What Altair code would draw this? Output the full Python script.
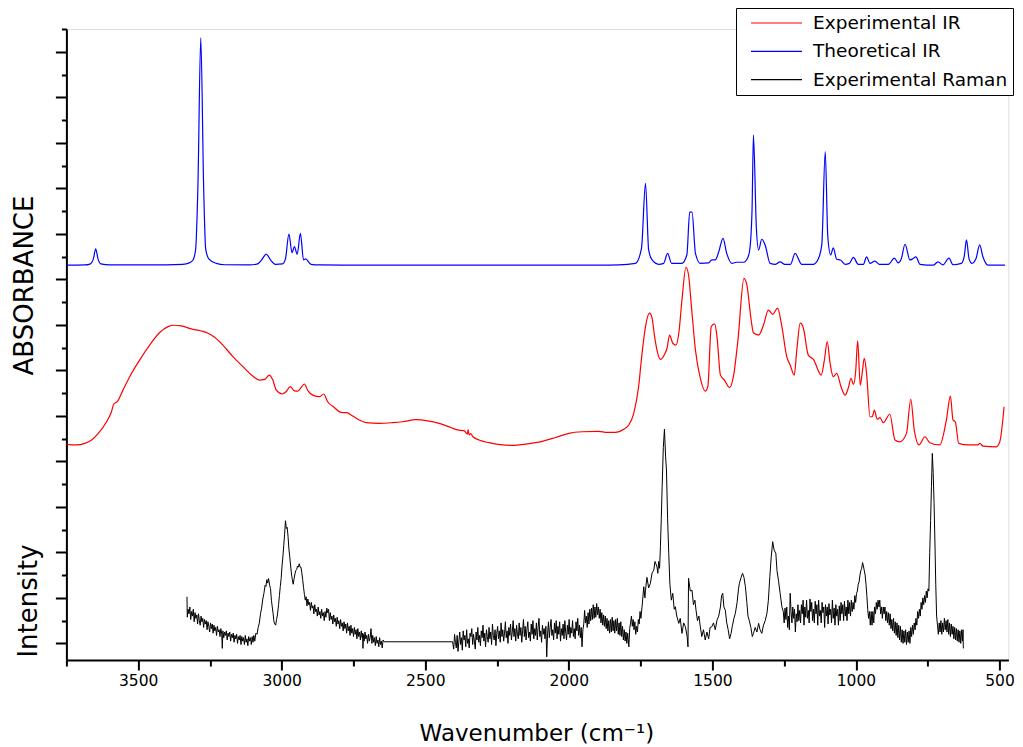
import altair as alt
import pandas as pd

FONT = "DejaVu Sans"

series_names = ["Experimental IR", "Theoretical IR", "Experimental Raman"]
series_colors = ["#ff0000", "#0000ff", "#000000"]

# (wavenumber cm-1, arbitrary units; one y tick = 1 unit)
theoretical_ir = [
    (3750, 16.62), (3686, 16.63), (3668, 16.67), (3656, 16.90), (3648, 17.34), (3640, 16.90),
    (3630, 16.68), (3599, 16.63), (3460, 16.63), (3345, 16.66), (3322, 16.72), (3309, 16.85),
    (3300, 17.30), (3292, 20.07), (3282, 26.61), (3272, 20.07), (3265, 17.35), (3254, 16.90),
    (3228, 16.70), (3199, 16.64), (3112, 16.63), (3084, 16.68), (3070, 16.85), (3054, 17.11),
    (3039, 16.85), (3022, 16.66), (2997, 16.68), (2987, 16.90), (2975, 17.99), (2964, 17.16),
    (2956, 17.44), (2946, 17.10), (2935, 18.02), (2924, 16.85), (2917, 16.90), (2898, 16.66),
    (2869, 16.63), (2591, 16.62), (2243, 16.62), (1896, 16.62), (1826, 16.63), (1768, 16.70),
    (1747, 17.36), (1733, 20.22), (1722, 17.29), (1710, 16.85), (1687, 16.66), (1670, 16.70),
    (1656, 17.14), (1642, 16.70), (1607, 16.70), (1589, 17.07), (1579, 18.95), (1571, 18.95),
    (1559, 17.14), (1542, 16.70), (1513, 16.72), (1502, 16.85), (1490, 16.85), (1478, 17.20),
    (1463, 17.80), (1450, 17.14), (1432, 16.70), (1416, 16.75), (1391, 16.75), (1381, 16.85),
    (1371, 17.20), (1362, 19.00), (1357, 22.34), (1347, 18.30), (1339, 17.29), (1328, 17.76),
    (1316, 17.50), (1299, 16.70), (1280, 16.66), (1264, 16.77), (1249, 16.66), (1228, 16.66),
    (1212, 17.14), (1189, 16.66), (1148, 16.66), (1131, 16.90), (1119, 17.51), (1107, 21.61),
    (1098, 17.87), (1088, 17.07), (1079, 17.38), (1067, 16.88), (1054, 16.85), (1038, 16.66),
    (1023, 16.70), (1009, 16.96), (992, 16.66), (974, 16.66), (963, 16.99), (951, 16.70),
    (934, 16.80), (919, 16.66), (887, 16.66), (866, 16.93), (853, 16.72), (842, 16.90),
    (829, 17.54), (812, 16.85), (802, 16.90), (791, 16.99), (777, 16.66), (731, 16.62),
    (714, 16.77), (697, 16.63), (676, 16.93), (662, 16.64), (633, 16.70), (623, 17.00),
    (615, 17.73), (606, 16.90), (596, 16.70), (582, 16.90), (569, 17.51), (558, 17.00),
    (540, 16.62), (481, 16.62),
]

experimental_ir = [
    (3750, 8.75), (3715, 8.72), (3686, 8.79), (3662, 8.94), (3639, 9.23), (3610, 9.74),
    (3593, 10.18), (3585, 10.52), (3573, 10.62), (3553, 11.13), (3523, 11.87), (3495, 12.45),
    (3460, 13.11), (3426, 13.65), (3396, 13.92), (3373, 13.98), (3350, 13.95), (3315, 13.82),
    (3280, 13.73), (3257, 13.63), (3234, 13.45), (3205, 13.11), (3170, 12.60), (3135, 12.16),
    (3101, 11.75), (3077, 11.57), (3060, 11.60), (3043, 11.79), (3031, 11.57), (3019, 11.13),
    (2998, 10.96), (2985, 11.06), (2970, 11.28), (2956, 11.10), (2944, 11.09), (2932, 11.25),
    (2921, 11.40), (2910, 11.13), (2892, 10.91), (2869, 10.84), (2854, 10.96), (2840, 10.62),
    (2817, 10.37), (2793, 10.15), (2774, 10.14), (2753, 9.99), (2730, 9.82), (2706, 9.70),
    (2660, 9.67), (2614, 9.70), (2579, 9.74), (2533, 9.83), (2492, 9.78), (2452, 9.67),
    (2411, 9.49), (2388, 9.38), (2365, 9.35), (2353, 9.20), (2351, 9.40), (2347, 9.16),
    (2342, 9.22), (2334, 9.08), (2313, 8.94), (2278, 8.82), (2232, 8.72), (2197, 8.70),
    (2150, 8.76), (2093, 8.88), (2046, 9.05), (2000, 9.23), (1954, 9.30), (1896, 9.32),
    (1867, 9.27), (1838, 9.27), (1809, 9.41), (1791, 9.60), (1774, 10.11), (1757, 11.28),
    (1745, 12.75), (1733, 13.92), (1719, 14.51), (1710, 14.29), (1702, 13.55), (1693, 12.89),
    (1681, 12.48), (1666, 12.72), (1658, 12.97), (1649, 13.55), (1638, 13.19), (1627, 13.11),
    (1617, 13.63), (1606, 15.09), (1592, 16.53), (1583, 16.19), (1573, 14.80), (1559, 12.89),
    (1542, 11.65), (1525, 11.09), (1516, 11.28), (1504, 13.92), (1492, 14.04), (1484, 13.48),
    (1472, 11.79), (1458, 11.57), (1440, 11.24), (1426, 11.79), (1411, 13.33), (1390, 16.04),
    (1380, 15.75), (1365, 14.21), (1357, 13.65), (1339, 13.55), (1322, 13.99), (1305, 14.65),
    (1290, 14.46), (1273, 14.73), (1258, 13.92), (1241, 12.60), (1229, 12.23), (1215, 11.79),
    (1206, 12.89), (1194, 14.07), (1183, 13.85), (1166, 12.67), (1148, 12.48), (1121, 11.79),
    (1110, 12.45), (1100, 13.26), (1090, 12.31), (1079, 11.72), (1067, 11.87), (1052, 11.28),
    (1038, 10.91), (1027, 11.21), (1017, 11.65), (1009, 11.38), (1001, 11.94), (994, 13.30),
    (985, 11.35), (977, 12.01), (971, 12.53), (963, 11.87), (951, 9.96), (943, 9.96),
    (936, 10.25), (926, 9.85), (916, 9.92), (905, 9.70), (882, 10.07), (864, 8.94),
    (847, 8.86), (824, 9.23), (809, 10.73), (797, 9.38), (780, 8.72), (760, 9.08),
    (743, 8.82), (708, 8.72), (685, 9.82), (671, 10.87), (662, 9.82), (654, 9.74),
    (642, 8.79), (609, 8.72), (575, 8.72), (569, 8.79), (557, 8.67), (511, 8.64),
    (499, 8.86), (484, 10.40),
]

experimental_raman = [
    (3330, 2.05), (3329, 1.15), (3326, 1.50), (3323, 1.30), (3320, 1.60), (3317, 1.05),
    (3314, 1.40), (3311, 1.20), (3308, 1.50), (3305, 0.95), (3302, 1.35), (3299, 1.10),
    (3296, 1.25), (3293, 0.85), (3290, 1.30), (3287, 1.00), (3284, 0.80), (3281, 1.20),
    (3278, 0.95), (3275, 1.10), (3272, 0.70), (3269, 1.05), (3266, 0.85), (3263, 1.00),
    (3260, 0.60), (3257, 0.95), (3254, 0.75), (3251, 0.50), (3248, 0.90), (3245, 0.65),
    (3242, 0.85), (3239, 0.45), (3236, 0.80), (3233, 0.55), (3230, 0.70), (3227, 0.35),
    (3224, 0.75), (3221, 0.50), (3218, 0.60), (3215, 0.30), (3212, 0.65), (3209, 0.40),
    (3207, -0.22), (3205, 0.55), (3202, 0.25), (3199, 0.50), (3196, 0.35), (3193, 0.55),
    (3190, 0.15), (3187, 0.45), (3184, 0.30), (3181, 0.50), (3178, 0.10), (3175, 0.40),
    (3172, 0.25), (3169, 0.45), (3166, 0.05), (3163, 0.35), (3160, 0.20), (3157, 0.40),
    (3154, 0.00), (3151, 0.30), (3148, 0.15), (3145, 0.35), (3142, -0.05), (3139, 0.30),
    (3136, 0.10), (3133, 0.25), (3130, -0.05), (3127, 0.35), (3124, 0.05), (3121, 0.20),
    (3118, -0.10), (3115, 0.30), (3112, 0.10), (3109, 0.25), (3106, -0.05), (3103, 0.30),
    (3100, 0.05), (3097, 0.35), (3094, 0.10), (3090, 0.45), (3086, 0.40), (3082, 0.70),
    (3078, 0.90), (3074, 1.30), (3070, 1.55), (3066, 1.95), (3062, 2.20), (3058, 2.55),
    (3055, 2.50), (3052, 2.80), (3049, 2.65), (3046, 2.85), (3042, 2.55), (3039, 2.40),
    (3036, 1.90), (3033, 1.60), (3030, 1.30), (3027, 0.95), (3024, 0.85), (3021, 0.80),
    (3018, 1.05), (3015, 1.25), (3011, 1.70), (3008, 2.10), (3005, 2.50), (3002, 2.85),
    (2999, 3.40), (2996, 3.80), (2993, 4.30), (2990, 4.80), (2987, 5.39), (2984, 5.05),
    (2981, 5.10), (2978, 4.70), (2975, 4.15), (2972, 3.80), (2969, 3.40), (2966, 3.05),
    (2963, 2.80), (2960, 2.60), (2957, 2.85), (2954, 3.05), (2951, 3.20), (2948, 3.25),
    (2945, 3.40), (2942, 3.35), (2939, 3.50), (2936, 3.35), (2933, 3.35), (2930, 3.10),
    (2927, 2.80), (2924, 2.45), (2921, 2.15), (2918, 1.90), (2915, 2.05), (2912, 1.65),
    (2909, 1.95), (2906, 1.70), (2903, 1.80), (2900, 1.45), (2897, 1.80), (2894, 1.55),
    (2891, 1.65), (2888, 1.30), (2885, 1.70), (2882, 1.40), (2879, 1.50), (2876, 1.20),
    (2873, 1.60), (2870, 1.25), (2867, 1.40), (2864, 1.10), (2861, 1.50), (2858, 1.20),
    (2855, 1.35), (2852, 1.00), (2849, 1.40), (2846, 1.15), (2843, 1.55), (2840, 1.35),
    (2837, 1.50), (2834, 1.00), (2831, 1.35), (2828, 1.05), (2825, 1.20), (2822, 0.85),
    (2819, 1.25), (2816, 0.95), (2813, 1.10), (2810, 0.75), (2807, 1.15), (2804, 0.85),
    (2801, 1.00), (2798, 0.65), (2795, 1.05), (2792, 0.75), (2789, 0.90), (2786, 0.55),
    (2783, 0.95), (2780, 0.65), (2777, 0.85), (2774, 0.45), (2771, 0.90), (2768, 0.55),
    (2765, 0.75), (2762, 0.35), (2759, 0.80), (2756, 0.45), (2753, 0.65), (2750, 0.30),
    (2747, 0.70), (2744, 0.40), (2741, 0.60), (2738, 0.20), (2735, 0.65), (2732, 0.30),
    (2729, 0.50), (2726, 0.15), (2723, 0.55), (2720, 0.25), (2718, 0.45), (2717, -0.22),
    (2716, 0.40), (2713, 0.10), (2710, 0.50), (2707, 0.20), (2704, 0.35), (2701, 0.00),
    (2698, 0.40), (2695, 0.10), (2692, 0.25), (2689, 0.65), (2686, 0.00), (2683, 0.35),
    (2680, 0.05), (2677, 0.25), (2674, -0.10), (2671, 0.30), (2668, 0.00), (2665, 0.15),
    (2662, -0.15), (2659, 0.25), (2656, -0.05), (2653, 0.10), (2650, -0.20), (2647, 0.15),
    (2643, 0.07), (2405, 0.07),
    (2401, -0.25), (2398, 0.40), (2395, 0.05), (2392, -0.20), (2389, 0.35), (2386, -0.35),
    (2383, 0.10), (2380, 0.50), (2377, -0.05), (2374, 0.25), (2371, -0.30), (2368, 0.55),
    (2365, 0.15), (2362, 0.35), (2359, -0.15), (2356, 0.60), (2353, 0.00), (2350, 0.20),
    (2347, -0.20), (2344, 0.45), (2341, 0.30), (2338, 0.65), (2335, -0.05), (2332, 0.40),
    (2329, 0.10), (2326, -0.25), (2323, 0.50), (2320, 0.15), (2317, 0.70), (2314, 0.05),
    (2311, 0.35), (2308, -0.10), (2305, 0.55), (2302, 0.25), (2299, 0.80), (2296, 0.10),
    (2293, 0.45), (2290, -0.15), (2287, 0.60), (2284, 0.30), (2281, 0.05), (2278, 0.70),
    (2275, 0.20), (2272, 0.50), (2269, -0.05), (2266, 0.85), (2263, 0.35), (2260, 0.15),
    (2257, 0.60), (2254, -0.10), (2251, 0.45), (2248, 0.75), (2245, 0.20), (2242, 0.55),
    (2239, 0.05), (2236, 0.90), (2233, 0.30), (2230, 0.60), (2227, 0.10), (2224, 0.45),
    (2221, 0.95), (2218, 0.25), (2215, 0.55), (2212, 0.00), (2209, 0.70), (2206, 0.35),
    (2203, 0.85), (2200, 0.15), (2197, 0.50), (2194, 1.00), (2191, 0.30), (2188, 0.65),
    (2185, 0.10), (2182, 0.80), (2179, 0.40), (2176, 0.20), (2173, 0.90), (2170, 0.35),
    (2167, 0.70), (2164, 0.05), (2161, 0.55), (2158, 1.05), (2155, 0.30), (2152, 0.75),
    (2149, 0.15), (2146, 0.60), (2143, 0.95), (2140, 0.25), (2137, 0.50), (2134, 0.10),
    (2131, 0.85), (2128, 0.40), (2125, 1.00), (2122, 0.20), (2119, 0.65), (2116, 0.35),
    (2113, 0.90), (2110, 0.15), (2107, 0.70), (2104, 1.10), (2101, 0.30), (2098, 0.55),
    (2095, 0.05), (2092, 0.80), (2089, 0.40), (2086, 0.65), (2083, 0.20), (2080, 0.75),
    (2077, -0.59), (2074, 0.45), (2071, 0.95), (2068, 0.25), (2065, 0.70), (2062, 1.05),
    (2059, 0.35), (2056, 0.60), (2053, 0.15), (2050, 0.90), (2047, 0.45), (2044, 1.00),
    (2041, 0.20), (2038, 0.75), (2035, 0.40), (2032, 0.95), (2029, 0.10), (2026, 0.65),
    (2023, 0.35), (2020, 0.85), (2017, 0.20), (2014, 1.00), (2011, 0.50), (2008, 0.15),
    (2005, 0.80), (2002, 0.40), (1999, 1.05), (1996, 0.25), (1993, 0.70), (1990, 0.45),
    (1987, 1.00), (1984, 0.30), (1981, 0.65), (1978, 0.20), (1975, 0.95), (1972, 0.55),
    (1969, 1.10), (1966, 0.35), (1963, 0.80), (1960, 0.25), (1957, 0.70), (1954, -0.15),
    (1951, 0.60), (1948, 0.85), (1945, 1.45), (1942, 0.90), (1939, 1.20), (1936, 0.70),
    (1933, 1.35), (1930, 0.85), (1927, 1.50), (1924, 1.00), (1921, 1.55), (1918, 1.05),
    (1915, 1.70), (1912, 1.10), (1909, 1.60), (1906, 1.15), (1903, 1.75), (1900, 1.25),
    (1897, 1.60), (1894, 1.10), (1891, 1.50), (1888, 0.90), (1885, 1.35), (1882, 0.80),
    (1879, 1.25), (1876, 0.75), (1873, 1.20), (1870, 0.65), (1867, 1.10), (1864, 0.55),
    (1861, 1.00), (1858, 0.45), (1855, 1.05), (1852, 0.50), (1849, 1.15), (1846, 0.55),
    (1843, 1.00), (1840, 0.45), (1837, 1.05), (1834, 0.55), (1831, 1.10), (1828, 0.40),
    (1825, 0.90), (1822, 0.35), (1819, 0.95), (1816, 0.30), (1813, 0.75), (1810, 0.15),
    (1807, 0.60), (1804, 0.10), (1801, 0.50), (1798, 0.00), (1795, 0.45), (1791, -0.15),
    (1788, 0.65), (1785, 0.90), (1782, 1.20), (1779, 0.75), (1776, 1.05), (1773, 0.60),
    (1770, 0.95), (1767, 0.40), (1764, 0.75), (1761, 0.50), (1758, 1.05), (1755, 0.85),
    (1752, 1.40), (1749, 1.10),
    (1745, 1.61), (1739, 2.49), (1735, 2.00), (1733, 2.34), (1728, 2.90), (1722, 2.44),
    (1716, 2.64), (1710, 3.10), (1704, 3.22), (1700, 3.60), (1693, 3.37), (1690, 3.08),
    (1687, 3.60), (1684, 3.30), (1681, 4.25), (1678, 5.50), (1675, 6.88), (1671, 8.60),
    (1667, 9.41), (1663, 8.20), (1660, 7.62), (1656, 5.50), (1652, 3.96), (1648, 2.60),
    (1643, 1.90), (1638, 2.20), (1633, 1.50), (1629, 1.61), (1624, 1.20), (1617, 0.88),
    (1612, 1.10), (1606, 0.44), (1600, 0.90), (1594, 0.73), (1588, 0.30), (1585, -0.15),
    (1583, 2.86), (1577, 2.30), (1571, 2.34), (1566, 1.70), (1561, 1.90), (1557, 1.46),
    (1552, 1.00), (1547, 1.20), (1542, 0.73), (1537, 0.30), (1531, 0.60), (1525, 0.15),
    (1519, 0.50), (1513, 0.20), (1508, 0.70), (1502, 0.73), (1496, 0.90), (1490, 0.60),
    (1484, 1.02), (1478, 1.20), (1472, 1.60), (1468, 2.10), (1464, 2.20), (1460, 1.60),
    (1455, 1.46), (1450, 0.90), (1445, 0.60), (1440, 0.20), (1435, 0.44), (1430, 0.80),
    (1425, 1.10), (1420, 1.32), (1414, 1.80), (1409, 2.40), (1406, 2.64), (1400, 2.90),
    (1395, 3.08), (1390, 2.90), (1385, 2.49), (1380, 1.80), (1376, 1.20), (1372, 1.02),
    (1366, 0.70), (1361, 0.30), (1357, 0.44), (1351, 0.70), (1345, 0.50), (1339, 0.88),
    (1334, 0.60), (1328, 0.44), (1322, 0.80), (1316, 1.00), (1310, 1.32), (1305, 1.90),
    (1300, 2.93), (1295, 3.80), (1290, 4.47), (1285, 4.10), (1279, 3.96), (1275, 3.20),
    (1270, 2.78), (1264, 2.20), (1258, 1.61),
    (1253, 1.40), (1250, 0.90), (1247, 1.55), (1244, 1.05), (1241, 1.60), (1238, 0.70),
    (1235, 1.20), (1232, 0.60), (1229, 2.20), (1226, 1.40), (1223, 0.90), (1220, 1.60),
    (1217, 1.10), (1214, 1.50), (1211, 0.50), (1208, 1.30), (1205, 0.95), (1202, 1.70),
    (1199, 1.00), (1196, 1.45), (1193, 0.90), (1190, 1.70), (1187, 1.30), (1184, 1.90),
    (1181, 0.80), (1178, 1.60), (1175, 1.15), (1172, 1.90), (1169, 1.10), (1166, 1.45),
    (1163, 0.90), (1160, 1.95), (1157, 1.40), (1154, 1.80), (1151, 1.00), (1148, 1.50),
    (1145, 0.90), (1142, 1.85), (1139, 1.30), (1136, 1.70), (1133, 0.80), (1130, 1.90),
    (1127, 1.20), (1124, 1.45), (1121, 0.90), (1118, 1.80), (1115, 1.35), (1112, 1.60),
    (1109, 0.70), (1106, 1.70), (1103, 1.20), (1100, 1.60), (1097, 0.85), (1094, 1.75),
    (1091, 1.25), (1088, 1.50), (1085, 0.90), (1082, 1.90), (1079, 1.10), (1076, 1.55),
    (1073, 0.80), (1070, 1.70), (1067, 1.20), (1064, 1.50), (1061, 0.80), (1058, 1.65),
    (1055, 1.00), (1052, 1.80), (1049, 1.30), (1046, 1.70), (1043, 1.00), (1040, 1.85),
    (1037, 1.20), (1034, 1.60), (1031, 1.00), (1028, 1.90), (1025, 1.30), (1022, 1.80),
    (1019, 1.20), (1016, 1.90), (1013, 1.40), (1010, 1.80), (1007, 1.50), (1004, 2.10),
    (1001, 1.80), (998, 2.20), (995, 2.30), (992, 2.60), (989, 2.70), (986, 3.00),
    (983, 3.20), (980, 3.30), (977, 3.55), (974, 3.40), (971, 3.20), (968, 3.00),
    (965, 2.60), (962, 2.10), (959, 1.50), (956, 1.10), (953, 1.40), (950, 0.80),
    (947, 1.40), (944, 0.80), (941, 1.40), (938, 0.90), (935, 1.60), (932, 1.30),
    (929, 1.80), (926, 1.50), (923, 1.90), (920, 1.60), (917, 1.90), (914, 1.30),
    (911, 1.60), (908, 1.10), (905, 1.60), (902, 1.30), (899, 1.60), (896, 1.00),
    (893, 1.40), (890, 0.90), (887, 1.35), (884, 0.80), (881, 1.30), (878, 0.65),
    (875, 1.05), (872, 0.55), (869, 1.10), (866, 0.45), (863, 0.95), (860, 0.35),
    (857, 0.90), (854, 0.25), (851, 0.80), (848, 0.15), (845, 0.75), (842, 0.05),
    (839, 0.60), (836, 0.00), (833, 0.55), (830, 0.05), (827, 0.60), (824, -0.05),
    (821, 0.50), (818, 0.05), (815, 0.55), (812, 0.00), (809, 0.70), (806, 0.30),
    (803, 0.80), (800, 0.40), (797, 0.90), (794, 0.60), (791, 1.10), (788, 0.80),
    (785, 1.40), (782, 1.10), (779, 1.50), (776, 1.20), (773, 1.80), (770, 1.50),
    (767, 2.00), (764, 1.70), (761, 2.10), (758, 1.80), (755, 2.30), (752, 2.00),
    (749, 2.40), (746, 2.30), (743, 4.00), (740, 5.40), (737, 6.90), (734, 8.35),
    (731, 7.50), (728, 6.20), (725, 4.50), (722, 2.60), (719, 1.20), (716, 0.80),
    (713, 0.40), (710, 0.90), (707, 0.50), (704, 1.00), (701, 0.40), (698, 0.90),
    (695, 0.50), (692, 1.10), (689, 0.60), (686, 1.00), (683, 0.50), (680, 1.05),
    (677, 0.40), (674, 0.90), (671, 0.30), (668, 0.85), (665, 0.40), (662, 0.75),
    (659, 0.20), (656, 0.70), (653, 0.15), (650, 0.65), (647, 0.10), (644, 0.60),
    (641, 0.05), (638, 0.55), (635, 0.00), (632, 0.60), (629, 0.10), (627, 0.60),
    (626, -0.22),
]

x_ticks = list(range(3750, 499, -250))
y_ticks = list(range(0, 28))
side_titles = ["Intensity"]

rows = []
for name, pts in zip(series_names, [experimental_ir, theoretical_ir, experimental_raman]):
    for i, (w, v) in enumerate(pts):
        rows.append({"series": name, "wavenumber": w, "value": v, "idx": i})
df = pd.DataFrame(rows)

x_enc = alt.X(
    "wavenumber:Q",
    scale=alt.Scale(domain=[469, 3750], reverse=True, nice=False, zero=False),
    axis=alt.Axis(
        values=x_ticks,
        format="d",
        labelExpr="datum.value % 500 === 0 ? datum.label : ''",
        tickSize={"condition": {"test": "datum.value % 500 !== 0", "value": 6}, "value": 10},
        tickWidth=2,
        tickColor="black",
        domainWidth=2,
        domainColor="black",
        labelFont=FONT,
        labelFontSize=15.5,
        labelColor="black",
        labelPadding=3,
        labelFlush=False,
        labelOverlap=False,
        grid=False,
        title="Wavenumber (cm⁻¹)",
        titleFont=FONT,
        titleFontSize=23,
        titleFontWeight="normal",
        titleColor="black",
        titleX=470,
        titleY=80,
        titleAlign="center",
        titleBaseline="alphabetic",
    ),
)

y_enc = alt.Y(
    "value:Q",
    scale=alt.Scale(domain=[-0.73, 27], nice=False, zero=False),
    axis=alt.Axis(
        values=y_ticks,
        labels=False,
        tickSize={"condition": {"test": "datum.value % 2 === 0", "value": 11}, "value": 5},
        tickWidth=2,
        tickColor="black",
        domainWidth=2,
        domainColor="black",
        grid=False,
        title="ABSORBANCE",
        titleFont=FONT,
        titleFontSize=26,
        titleFontWeight="normal",
        titleColor="black",
        titleAngle=270,
        titleX=-34,
        titleY=256,
        titleAlign="center",
        titleBaseline="alphabetic",
    ),
)

color_enc = alt.Color(
    "series:N",
    scale=alt.Scale(domain=series_names, range=series_colors),
    sort=series_names,
    legend=alt.Legend(
        title=None,
        orient="none",
        legendX=669.6,
        legendY=-21,
        direction="vertical",
        symbolType="stroke",
        symbolSize=2601,
        symbolStrokeWidth=1.2,
        symbolOffset=9,
        clipHeight=20,
        labelFont=FONT,
        labelFontSize=18.5,
        labelColor="black",
        labelLimit=400,
        labelOffset=10,
        padding=5,
        rowPadding=8.3,
        strokeColor="black",
        fillColor="white",
    ),
)

base = alt.Chart(df).encode(x=x_enc, y=y_enc, color=color_enc, order="idx:Q")

ir_lines = base.transform_filter(alt.datum.series != "Experimental Raman").mark_line(
    strokeWidth=1.2, interpolate="monotone", clip=True
)
raman_line = base.transform_filter(alt.datum.series == "Experimental Raman").mark_line(
    strokeWidth=1, clip=True
)

side = alt.Chart(pd.DataFrame({"label": side_titles})).mark_text(
    angle=270, font=FONT, fontSize=26, color="black", align="center", baseline="alphabetic"
).encode(text="label:N", x=alt.value(-29), y=alt.value(572))

chart = alt.layer(ir_lines, raman_line, side).properties(
    width=942,
    height=631,
    padding={"left": 58.4, "top": 21, "right": 6.6, "bottom": 85},
    autosize=alt.AutoSizeParams(type="none"),
).configure_view(stroke=None).configure(background="white")

chart.save("out.html", embed_options={"renderer": "svg", "actions": False})
